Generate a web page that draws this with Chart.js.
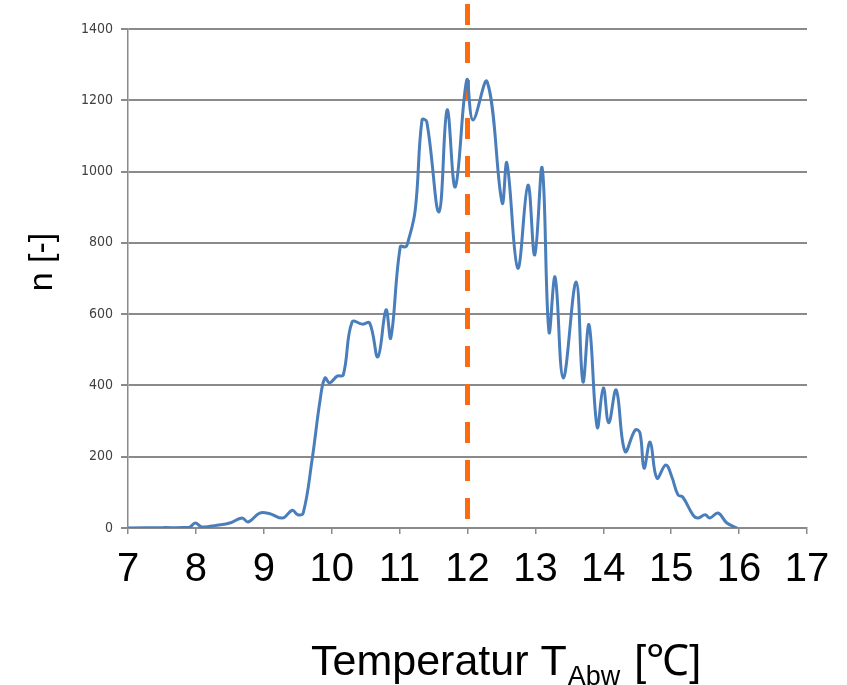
<!DOCTYPE html>
<html>
<head>
<meta charset="utf-8">
<script src="https://cdn.jsdelivr.net/npm/chart.js@4.4.1/dist/chart.umd.min.js"></script>
<style>
  html, body { margin: 0; padding: 0; background: #ffffff; }
  #wrap { width: 847px; height: 685px; }
</style>
</head>
<body>
<div id="wrap"><canvas id="c" width="847" height="685"></canvas></div>
<script>
// Water outlet temperature (°C) and number of occurrences n
const temperatures = [
  7.0, 7.5, 7.9, 7.99, 8.09, 8.31, 8.50, 8.68, 8.77, 8.94, 9.09, 9.28, 9.42, 9.50, 9.58,
  9.71, 9.83, 9.90, 9.97, 10.08, 10.17, 10.30, 10.45, 10.56, 10.68, 10.80, 10.87,
  11.01, 11.09, 11.12, 11.23, 11.33, 11.40, 11.58, 11.70, 11.82, 11.99, 12.08, 12.29,
  12.51, 12.58, 12.74, 12.89, 12.99, 13.10, 13.20, 13.29, 13.41, 13.60, 13.70, 13.79,
  13.91, 14.00, 14.08, 14.19, 14.32, 14.47, 14.54, 14.60, 14.69, 14.79, 14.92, 15.01,
  15.10, 15.17, 15.32, 15.39, 15.50, 15.57, 15.69, 15.82, 15.97
];
const counts = [
  0, 1, 2, 14, 3, 8, 14, 28, 17, 42, 40, 28, 50, 37, 42,
  190, 360, 421, 407, 426, 429, 578, 572, 575, 480, 612, 533,
  789, 789, 800, 892, 1145, 1140, 887, 1173, 957, 1257, 1145, 1252,
  912, 1024, 729, 962, 766, 1010, 550, 704, 421, 690, 410, 570,
  283, 393, 295, 387, 215, 275, 267, 168, 241, 140, 177, 143,
  93, 87, 37, 28, 37, 28, 42, 14, 0
];
// Reference temperature marked by the dashed line
const markerTemperature = 12;

const xTicks = [7, 8, 9, 10, 11, 12, 13, 14, 15, 16, 17];
const yTicks = [0, 200, 400, 600, 800, 1000, 1200, 1400];

const points = temperatures.map((t, i) => ({ x: t, y: counts[i] }));

const gridGray = '#8a8a8a';

const markerLine = {
  id: 'markerLine',
  beforeDatasetsDraw(chart) {
    const { ctx, chartArea, scales } = chart;
    const x = scales.x.getPixelForValue(markerTemperature);
    ctx.save();
    ctx.strokeStyle = '#FF6A0D';
    ctx.lineWidth = 5;
    ctx.setLineDash([21, 17]);
    ctx.beginPath();
    ctx.moveTo(x, chartArea.top - 25);
    ctx.lineTo(x, chartArea.bottom);
    ctx.stroke();
    ctx.restore();
  }
};

const axisTitles = {
  id: 'axisTitles',
  afterDraw(chart) {
    const { ctx } = chart;
    ctx.save();
    ctx.fillStyle = '#000000';
    // vertical title
    ctx.save();
    ctx.translate(43, 262);
    ctx.rotate(-Math.PI / 2);
    ctx.font = '34px "Liberation Sans", Arial, sans-serif';
    ctx.textAlign = 'center';
    ctx.textBaseline = 'middle';
    ctx.fillText('n [-]', 0, 0);
    ctx.restore();
    // horizontal title with subscript
    const big = '43px "Liberation Sans", Arial, sans-serif';
    const small = '27px "Liberation Sans", Arial, sans-serif';
    const baseY = 675;
    ctx.textBaseline = 'alphabetic';
    ctx.textAlign = 'left';
    let x = 311;
    ctx.font = big;
    ctx.fillText('Temperatur T', x, baseY);
    x += ctx.measureText('Temperatur T').width + 1;
    ctx.font = small;
    ctx.fillText('Abw', x, baseY + 10);
    x += ctx.measureText('Abw').width + 14;
    ctx.font = big;
    ctx.fillText('[℃]', x, baseY);
    ctx.restore();
  }
};

new Chart(document.getElementById('c'), {
  type: 'line',
  data: {
    datasets: [{
      data: points,
      borderColor: '#4A7EBB',
      borderWidth: 3,
      pointRadius: 0,
      fill: false,
      tension: 0.4
    }]
  },
  options: {
    responsive: false,
    animation: false,
    devicePixelRatio: 1,
    layout: { padding: { top: 29, right: 40, left: 0, bottom: 0 } },
    plugins: { legend: { display: false }, tooltip: { enabled: false } },
    scales: {
      x: {
        type: 'linear',
        min: 7,
        max: 17,
        afterBuildTicks(scale) { scale.ticks = xTicks.map(v => ({ value: v })); },
        afterFit(scale) { scale.height = 157; },
        ticks: {
          autoSkip: false,
          maxRotation: 0,
          color: '#000000',
          padding: 12,
          callback: v => String(v),
          font: { family: '"Liberation Sans", Arial, sans-serif', size: 40 }
        },
        grid: { drawOnChartArea: false, drawTicks: true, tickLength: 6, color: gridGray, lineWidth: 1.5 },
        border: { color: gridGray, width: 1.5 }
      },
      y: {
        type: 'linear',
        min: 0,
        max: 1400,
        afterBuildTicks(scale) { scale.ticks = yTicks.map(v => ({ value: v })); },
        afterFit(scale) { scale.width = 128; },
        ticks: {
          color: '#404040',
          padding: 8,
          callback: v => String(v),
          font: { family: '"DejaVu Sans Condensed", "Liberation Sans Narrow", sans-serif', size: 14 }
        },
        grid: { color: gridGray, lineWidth: 2, drawTicks: true, tickLength: 7 },
        border: { color: gridGray, width: 1.5 }
      }
    }
  },
  plugins: [markerLine, axisTitles]
});
</script>
</body>
</html>
